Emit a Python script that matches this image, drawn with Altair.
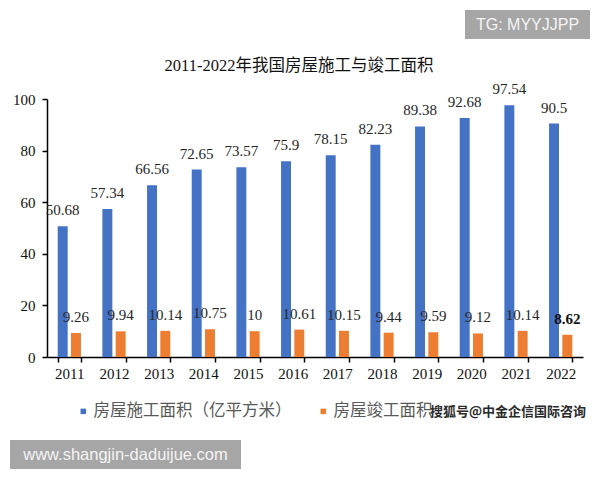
import altair as alt
import pandas as pd

# 房屋施工 / 竣工面积, 2011-2022 (亿平方米)
years = ["2011", "2012", "2013", "2014", "2015", "2016",
         "2017", "2018", "2019", "2020", "2021", "2022"]
construction = [50.68, 57.34, 66.56, 72.65, 73.57, 75.9,
                78.15, 82.23, 89.38, 92.68, 97.54, 90.5]
completed = [9.26, 9.94, 10.14, 10.75, 10, 10.61,
             10.15, 9.44, 9.59, 9.12, 10.14, 8.62]
series_names = ["房屋施工面积（亿平方米）", "房屋竣工面积（亿平方米）"]
series_colors = ["#4472C4", "#ED7D31"]
chart_title = "2011-2022年我国房屋施工与竣工面积"

rows = []
for y, a, b in zip(years, construction, completed):
    rows.append({"year": y, "series": series_names[0], "value": a})
    rows.append({"year": y, "series": series_names[1], "value": b})
df = pd.DataFrame(rows)

SERIF = "Liberation Serif, Noto Sans CJK SC"
SANS = "Liberation Sans, Arial, sans-serif"
CJK = "Noto Sans CJK SC"

x_enc = alt.X("year:N", sort=years, title=None,
              scale=alt.Scale(paddingInner=0.48, paddingOuter=0.24),
              axis=alt.Axis(labelAngle=0, tickBand="extent"))
xo_enc = alt.XOffset("series:N", sort=series_names,
                     scale=alt.Scale(paddingInner=0.25))
y_enc = alt.Y("value:Q", title=None,
              scale=alt.Scale(domain=[0, 100], nice=False),
              axis=alt.Axis(values=[0, 20, 40, 60, 80, 100], grid=False))

base = alt.Chart(df).encode(x=x_enc, xOffset=xo_enc, y=y_enc)

# the second legend entry is shortened; the watermark sits where its unit would be
legend_label = (
    f"datum.label == '{series_names[1]}' ? '房屋竣工面积' : datum.label"
)

bars = base.mark_bar().encode(
    color=alt.Color(
        "series:N", sort=series_names,
        scale=alt.Scale(domain=series_names, range=series_colors),
        legend=alt.Legend(
            title=None, orient="none", legendX=28, legendY=304,
            direction="horizontal", symbolType="square", symbolSize=30,
            labelFont=CJK, labelFontSize=16.5, labelColor="#595959",
            labelLimit=300, columnPadding=23, padding=0, labelOffset=2,
            labelExpr=legend_label,
        ),
    )
)

labels = base.transform_filter(
    (alt.datum.year != "2022") | (alt.datum.series == series_names[0])
).mark_text(font=SERIF, fontSize=15, color="#262626",
            baseline="alphabetic", dy=-11).encode(text="value:Q")

label_bold = base.transform_filter(
    (alt.datum.year == "2022") & (alt.datum.series == series_names[1])
).mark_text(font=SERIF, fontSize=15, fontWeight="bold", color="#111111",
            baseline="alphabetic", dy=-11).encode(text="value:Q")

# chart heading
title_df = pd.DataFrame({"t": [chart_title]})
title_text = alt.Chart(title_df).mark_text(
    font=SERIF, fontSize=16.5, color="#111111",
    align="center", baseline="middle").encode(
    x=alt.value(252), y=alt.value(-33), text="t:N")

# watermark after the second legend entry
wm_df = pd.DataFrame({"t": ["搜狐号@中金企信国际咨询"]})
wm_text = alt.Chart(wm_df).mark_text(
    font=CJK, fontSize=13, fontWeight="bold", color="#2a2a2a",
    align="left", baseline="middle").encode(
    x=alt.value(383), y=alt.value(313), text="t:N")

# grey badges
tg_df = pd.DataFrame({"t": ["TG: MYYJJPP"]})
tg_box = alt.Chart(tg_df).mark_rect(color="#a6a6a6").encode(
    x=alt.value(418), x2=alt.value(543), y=alt.value(-89), y2=alt.value(-60))
tg_text = alt.Chart(tg_df).mark_text(
    font=SANS, fontSize=16, color="#f4f4f4",
    align="center", baseline="middle").encode(
    x=alt.value(480.5), y=alt.value(-74.5), text="t:N")

web_df = pd.DataFrame({"t": ["www.shangjin-daduijue.com"]})
web_box = alt.Chart(web_df).mark_rect(color="#a6a6a6").encode(
    x=alt.value(-37), x2=alt.value(194), y=alt.value(341), y2=alt.value(370))
web_text = alt.Chart(web_df).mark_text(
    font=SANS, fontSize=16.5, color="#f4f4f4",
    align="center", baseline="middle").encode(
    x=alt.value(78.5), y=alt.value(355.5), text="t:N")

chart = alt.layer(
    bars, labels, label_bold, title_text, wm_text,
    tg_box, tg_text, web_box, web_text
).properties(
    width=536, height=258,
    autosize=alt.AutoSizeParams(type="none"),
    padding={"left": 47, "top": 99, "right": 17, "bottom": 123},
).configure_view(
    stroke=None
).configure_axis(
    domainColor="#000000", domainWidth=1.5,
    tickColor="#000000", tickWidth=1.5, tickSize=5,
    labelFont=SERIF, labelFontSize=15, labelColor="#111111",
).configure_axisX(
    labelPadding=4
).configure_axisY(
    labelPadding=7
)

chart.save("out.html", embed_options={"renderer": "svg", "actions": False})
